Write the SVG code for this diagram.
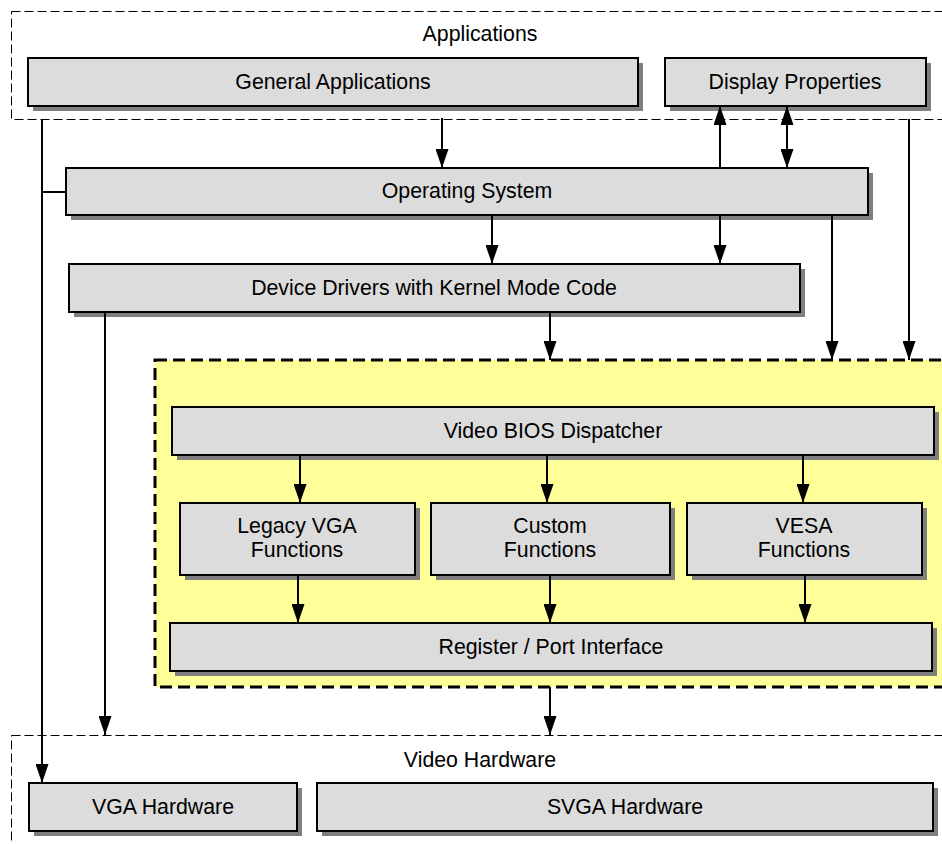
<svg xmlns="http://www.w3.org/2000/svg" width="942" height="844" viewBox="0 0 942 844">
  <defs>
    <marker id="arrow" viewBox="0 0 19 13" refX="19" refY="6.5" markerWidth="19" markerHeight="13" markerUnits="userSpaceOnUse" orient="auto-start-reverse">
      <path d="M0,0 L19,6.5 L0,13 z" fill="#000"/>
    </marker>
  </defs>
  <style>
    .box { fill: #dcdcdc; stroke: #000; stroke-width: 2; }
    .shadow { fill: #808080; }
    .label { font-family: "Liberation Sans", Arial, sans-serif; font-size: 21.3px; fill: #000; text-anchor: middle; }
    .group { fill: none; stroke: #000; stroke-width: 1; stroke-dasharray: 9 4; }
    .bios { fill: #ffff99; stroke: #000; stroke-width: 3; stroke-dasharray: 12 6; }
    .wire { fill: none; stroke: #000; stroke-width: 2; }
    .wire.arrowed { marker-end: url(#arrow); }
  </style>

  <rect width="942" height="844" fill="#fff"/>

  <!-- Layer frames -->
  <g id="applications">
    <rect class="group" x="11.5" y="11.5" width="940" height="108"/>
    <text class="label" x="480" y="41">Applications</text>
  </g>
  <g id="video-bios">
    <rect class="bios" x="155" y="360" width="790" height="327"/>
  </g>
  <g id="video-hardware">
    <rect class="group" x="11.5" y="735.5" width="940" height="120"/>
    <text class="label" x="480" y="767">Video Hardware</text>
  </g>

  <!-- Component nodes -->
  <g id="general-applications">
    <rect class="shadow" x="33" y="63" width="610" height="48"/>
    <rect class="box" x="28" y="58" width="610" height="48"/>
    <text class="label" x="333" y="89">General Applications</text>
  </g>
  <g id="display-properties">
    <rect class="shadow" x="670" y="63" width="261" height="48"/>
    <rect class="box" x="665" y="58" width="261" height="48"/>
    <text class="label" x="795" y="89">Display Properties</text>
  </g>
  <g id="operating-system">
    <rect class="shadow" x="71" y="173" width="802" height="47"/>
    <rect class="box" x="66" y="168" width="802" height="47"/>
    <text class="label" x="467" y="198">Operating System</text>
  </g>
  <g id="device-drivers">
    <rect class="shadow" x="74" y="269" width="731" height="48"/>
    <rect class="box" x="69" y="264" width="731" height="48"/>
    <text class="label" x="434" y="295">Device Drivers with Kernel Mode Code</text>
  </g>
  <g id="bios-dispatcher">
    <rect class="shadow" x="177" y="412" width="762" height="48"/>
    <rect class="box" x="172" y="407" width="762" height="48"/>
    <text class="label" x="553" y="438">Video BIOS Dispatcher</text>
  </g>
  <g id="legacy-vga">
    <rect class="shadow" x="185" y="508" width="235" height="72"/>
    <rect class="box" x="180" y="503" width="235" height="72"/>
    <text class="label" x="297" y="533">Legacy VGA</text>
    <text class="label" x="297" y="557">Functions</text>
  </g>
  <g id="custom-functions">
    <rect class="shadow" x="436" y="508" width="239" height="72"/>
    <rect class="box" x="431" y="503" width="239" height="72"/>
    <text class="label" x="550" y="533">Custom</text>
    <text class="label" x="550" y="557">Functions</text>
  </g>
  <g id="vesa-functions">
    <rect class="shadow" x="692" y="508" width="235" height="72"/>
    <rect class="box" x="687" y="503" width="235" height="72"/>
    <text class="label" x="804" y="533">VESA</text>
    <text class="label" x="804" y="557">Functions</text>
  </g>
  <g id="register-port">
    <rect class="shadow" x="175" y="628" width="762" height="48"/>
    <rect class="box" x="170" y="623" width="762" height="48"/>
    <text class="label" x="551" y="654">Register / Port Interface</text>
  </g>
  <g id="vga-hardware">
    <rect class="shadow" x="34" y="788" width="268" height="48"/>
    <rect class="box" x="29" y="783" width="268" height="48"/>
    <text class="label" x="163" y="814">VGA Hardware</text>
  </g>
  <g id="svga-hardware">
    <rect class="shadow" x="322" y="788" width="616" height="48"/>
    <rect class="box" x="317" y="783" width="616" height="48"/>
    <text class="label" x="625" y="814">SVGA Hardware</text>
  </g>

  <!-- Connectors -->
  <g id="connectors">
    <line class="wire arrowed" x1="42" y1="119" x2="42" y2="783"/>
    <line class="wire" x1="42" y1="192" x2="66" y2="192"/>
    <line class="wire arrowed" x1="442" y1="118" x2="442" y2="168"/>
    <line class="wire arrowed" x1="720" y1="168" x2="720" y2="106"/>
    <line class="wire arrowed" x1="787" y1="106" x2="787" y2="168" marker-start="url(#arrow)"/>
    <line class="wire arrowed" x1="909" y1="119" x2="909" y2="360"/>
    <line class="wire arrowed" x1="492" y1="215" x2="492" y2="264"/>
    <line class="wire arrowed" x1="720" y1="215" x2="720" y2="264"/>
    <line class="wire arrowed" x1="832" y1="215" x2="832" y2="360"/>
    <line class="wire arrowed" x1="105" y1="312" x2="105" y2="735"/>
    <line class="wire arrowed" x1="550" y1="312" x2="550" y2="360"/>
    <line class="wire arrowed" x1="300" y1="455" x2="300" y2="503"/>
    <line class="wire arrowed" x1="547" y1="455" x2="547" y2="503"/>
    <line class="wire arrowed" x1="803" y1="455" x2="803" y2="503"/>
    <line class="wire arrowed" x1="298" y1="575" x2="298" y2="623"/>
    <line class="wire arrowed" x1="550" y1="575" x2="550" y2="623"/>
    <line class="wire arrowed" x1="805" y1="575" x2="805" y2="623"/>
    <line class="wire arrowed" x1="550" y1="687" x2="550" y2="735"/>
  </g>
</svg>
